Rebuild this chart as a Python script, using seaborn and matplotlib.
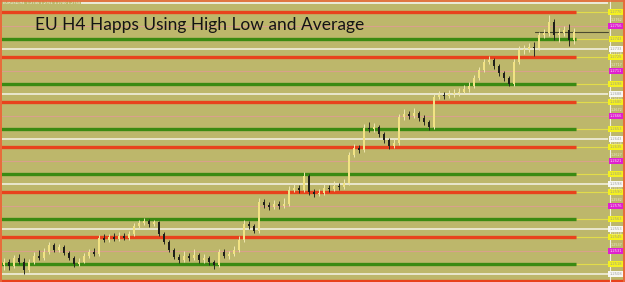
import matplotlib
matplotlib.use("Agg")
import matplotlib.pyplot as plt
import seaborn as sns
import pandas as pd

# ---- data (pips above 1.2500) ----
opens = [17, 20, 16, 24, 20, 12, 20, 26, 24, 30, 37, 32, 35, 29, 24, 18, 20, 26, 30, 28,
         44, 42, 45, 43, 46, 44, 48, 56, 59, 61, 58, 60, 48, 40, 32, 25, 22, 26, 24, 27,
         22, 24, 20, 17, 30, 26, 28, 32, 42, 58, 56, 51, 80, 77, 75, 78, 76, 78, 92, 94,
         92, 106, 90, 88, 89, 94, 93, 96, 95, 99, 127, 134, 132, 154, 153, 155, 148, 142, 136, 139,
         165, 168, 166, 169, 164, 160, 155, 185, 187, 186, 188, 189, 190, 193, 196, 204, 212, 220, 222, 216,
         209, 204, 198, 220, 232, 233, 235, 234, 247, 249, 260, 247, 249, 252, 242]
closes = [20, 16, 24, 20, 12, 20, 26, 24, 30, 37, 32, 35, 29, 24, 18, 20, 26, 30, 28, 44,
          42, 45, 43, 46, 44, 48, 56, 59, 61, 58, 60, 48, 40, 32, 25, 22, 26, 24, 27, 22,
          24, 20, 17, 30, 26, 28, 32, 42, 58, 56, 51, 80, 77, 75, 78, 76, 78, 92, 94, 92,
          106, 90, 88, 89, 94, 93, 96, 95, 99, 127, 134, 132, 154, 153, 155, 148, 142, 136, 139, 165,
          168, 166, 169, 164, 160, 155, 185, 187, 186, 188, 189, 190, 193, 196, 204, 212, 220, 222, 216, 209,
          204, 198, 220, 232, 233, 235, 234, 247, 249, 260, 247, 249, 252, 242, 250]
highs = [24, 23, 27, 28, 24, 23, 30, 32, 34, 40, 39, 38, 37, 31, 26, 24, 29, 33, 34, 47,
         48, 48, 49, 50, 49, 51, 59, 62, 64, 63, 62, 61, 50, 42, 34, 28, 31, 29, 33, 29,
         28, 26, 22, 33, 33, 31, 36, 46, 62, 61, 58, 84, 83, 80, 82, 81, 84, 96, 98, 97,
         110, 108, 93, 93, 98, 97, 101, 99, 103, 130, 138, 137, 158, 160, 159, 157, 150, 144, 143, 168,
         173, 171, 174, 171, 167, 162, 188, 191, 190, 192, 193, 194, 197, 200, 207, 215, 223, 226, 224, 218,
         211, 206, 223, 236, 237, 239, 240, 250, 253, 267, 263, 254, 256, 258, 254]
lows = [12, 12, 14, 18, 8, 10, 18, 22, 22, 28, 30, 30, 27, 22, 15, 16, 19, 24, 26, 26,
        40, 40, 41, 41, 42, 42, 46, 54, 57, 55, 56, 46, 38, 30, 23, 19, 20, 21, 22, 19,
        19, 17, 13, 15, 24, 23, 26, 30, 40, 53, 49, 49, 74, 72, 73, 73, 74, 76, 90, 89,
        90, 87, 85, 86, 87, 90, 91, 92, 93, 97, 125, 129, 130, 150, 150, 145, 139, 133, 134, 137,
        162, 163, 164, 161, 157, 152, 153, 183, 183, 184, 185, 186, 188, 190, 194, 202, 210, 218, 213, 206,
        201, 196, 196, 218, 228, 230, 226, 232, 244, 246, 242, 240, 246, 236, 238]

red_levels = [270, 225, 180, 135, 90, 45]
pink_levels = [256, 211, 166, 121, 76, 31]
green_levels = [243, 198, 153, 108, 63, 18]
white_levels = [233, 188, 143, 98, 53, 8]
current_level = 250
title = "EU H4 Happs Using High Low and Average"

BASE = 1.25
def px(p):
    return BASE + p / 10000.0

df = pd.DataFrame({"i": range(len(closes)),
                   "open": [px(v) for v in opens], "close": [px(v) for v in closes],
                   "high": [px(v) for v in highs], "low": [px(v) for v in lows]})
df["bull"] = df["close"] >= df["open"]

sns.set_theme(style="white")
plt.rcParams["font.family"] = ["Lato", "DejaVu Sans"]
BG = "#BDB76B"
fig = plt.figure(figsize=(6.25, 2.82), dpi=100, facecolor=BG)
ax = fig.add_axes([0, 0, 1, 1])
ax.set_facecolor(BG)
XMIN, XMAX = -0.8, 124.2
ax.set_xlim(XMIN, XMAX)
ax.set_ylim(px(0), px(282))
ax.set_axis_off()

def xfromp(pix):
    return XMIN + pix / 625 * (XMAX - XMIN)

x_end_thick = xfromp(576)
x_chart_end = xfromp(608)
x_start = xfromp(0)

# top info line
ax.hlines(px(279), x_start, x_chart_end, color="#F4F4EC", lw=1.2, zorder=1)
# levels
for lv in white_levels:
    ax.hlines(px(lv), x_start, x_chart_end, color="#F6F4E8", lw=1.1, zorder=1)
for lv in pink_levels:
    ax.hlines(px(lv), x_start, x_chart_end, color="#D9A08C", lw=0.8, zorder=1)
for lv in red_levels:
    ax.hlines(px(lv), x_start, x_end_thick, color="#E8421C", lw=2.4, zorder=2)
    ax.hlines(px(lv), x_end_thick, x_chart_end, color="#E2DC4A", lw=0.8, zorder=1)
for lv in green_levels:
    ax.hlines(px(lv), x_start, x_end_thick, color="#3A8A12", lw=2.4, zorder=2)
    ax.hlines(px(lv), x_end_thick, x_chart_end, color="#E2DC4A", lw=0.8, zorder=1)
ax.hlines(px(0.8), x_start, xfromp(625), color="#E8421C", lw=2.4, zorder=2)
# current price line
sns.lineplot(x=[xfromp(535), x_chart_end], y=[px(current_level)] * 2, ax=ax,
             color="#4A4A30", lw=0.8, zorder=2)

# candles
bull = df[df["bull"]]
bear = df[~df["bull"]]
ax.vlines(bull["i"], bull["low"], bull["high"], color="#F0E7B0", lw=0.7, zorder=3)
ax.vlines(bear["i"], bear["low"], bear["high"], color="#2A2A22", lw=0.7, zorder=3)
ax.bar(bull["i"], (bull["close"] - bull["open"]).clip(lower=0.00008), bottom=bull["open"],
       width=0.5, color="#F2E384", edgecolor="none", zorder=4)
ax.bar(bear["i"], (bear["open"] - bear["close"]).clip(lower=0.00008), bottom=bear["close"],
       width=0.5, color="#1E1E1A", edgecolor="none", zorder=4)

# right price column
ax.vlines(x_chart_end + 0.3, px(0), px(282), color="#F2F0E2", lw=0.8, zorder=2)
label_x = xfromp(616)
for lvls, fc, tc in [(red_levels, "#F4F020", "#A0A080"), (green_levels, "#F4F020", "#A0A080"),
                     (pink_levels, "#E020D0", "#F8E0F0"), (white_levels, "#F8F8F4", "#A0A0A0")]:
    for lv in lvls:
        ax.text(label_x, px(lv), f"{px(lv):.4f}", fontsize=2.6, color=tc, ha="center", va="center",
                family="DejaVu Sans",
                bbox=dict(boxstyle="square,pad=0.35", fc=fc, ec="none"), zorder=5)
for lv in [262, 217, 172, 127, 82, 37, 228, 183, 138, 93, 48]:
    ax.text(label_x, px(lv), f"{px(lv):.4f}", fontsize=2.4, color="#EDEAD0", ha="center",
            va="center", family="DejaVu Sans", zorder=5)

ax.text(xfromp(3), px(279), "EURUSD,H4  1.2745 1.2751 1.2740 1.2750", fontsize=2.6,
        color="#F8F8F0", ha="left", va="center", family="DejaVu Sans", zorder=5,
        bbox=dict(boxstyle="square,pad=0.2", fc=BG, ec="none"))

# border
for side_x in [xfromp(0.8), xfromp(623.5)]:
    ax.vlines(side_x, px(0), px(282), color="#E86A3A", lw=1.4, zorder=6)
ax.hlines(px(281.4), x_start, xfromp(625), color="#E86A3A", lw=1.2, zorder=6)

fig.text(35 / 625, 1 - 30 / 282, title, fontsize=12.5, color="#141414", ha="left",
         va="baseline", family=["Lato", "DejaVu Sans"])

fig.savefig("out.png", dpi=100, facecolor=BG)
